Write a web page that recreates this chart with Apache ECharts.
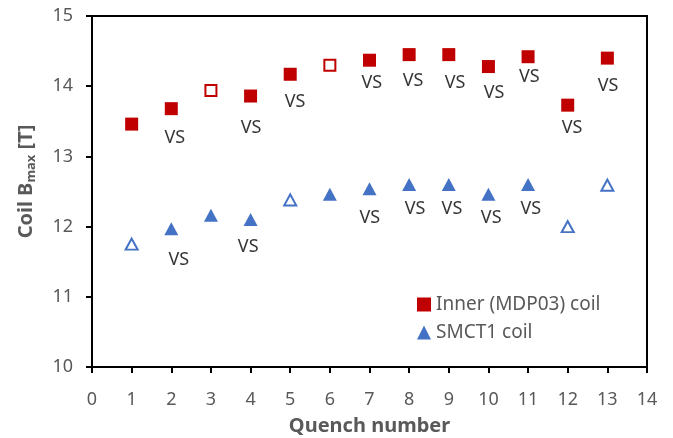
<!DOCTYPE html>
<html>
<head>
<meta charset="utf-8">
<script src="https://cdn.jsdelivr.net/npm/echarts@6/dist/echarts.min.js"></script>
<style>
  html, body { margin: 0; padding: 0; background: #fff; }
  #chart { width: 673px; height: 438px; }
</style>
</head>
<body>
<div id="chart"></div>
<script>
// quench number and peak field per coil
const quench = [1, 2, 3, 4, 5, 6, 7, 8, 9, 10, 11, 12, 13]
const innerBmax = [13.46, 13.68, 13.94, 13.86, 14.17, 14.30, 14.37, 14.45, 14.45, 14.28, 14.42, 13.73, 14.40]
const smctBmax = [11.75, 11.97, 12.16, 12.10, 12.38, 12.46, 12.54, 12.60, 12.60, 12.46, 12.60, 12.00, 12.59]
// quenches drawn with open markers
const innerOpen = [3, 6]
const smctOpen = [1, 5, 12, 13]
// "VS" annotation anchors (quench, field)
const innerVsX = [2.09, 4.01, 5.12, 7.06, 8.10, 9.16, 10.14, 11.03, 12.11, 13.02]
const innerVsY = [13.26, 13.40, 13.77, 14.05, 14.08, 14.05, 13.91, 14.13, 13.40, 14.01]
const smctVsX = [2.19, 3.94, 7.01, 8.15, 9.08, 10.07, 11.07]
const smctVsY = [11.52, 11.71, 12.12, 12.25, 12.25, 12.12, 12.25]
const xTicks = [0, 14]
const yTicks = [10, 15]

const RED = '#C00000'
const BLUE = '#4472C4'
const GREY = '#595959'
const FONT = 'Noto Sans'

const pick = (vals, open, wantOpen) =>
  quench.filter(q => open.includes(q) === wantOpen).map(q => [q, vals[quench.indexOf(q)]])

const vsSeries = (xs, ys) => ({
  type: 'scatter',
  silent: true,
  symbolSize: 0,
  data: xs.map((x, i) => [x, ys[i]]),
  label: { show: true, position: 'inside', formatter: 'VS', color: '#000', fontSize: 18, fontFamily: FONT },
  z: 1
})

const chart = echarts.init(document.getElementById('chart'))
chart.setOption({
  animation: false,
  grid: {
    left: 92, right: 26, top: 16, bottom: 71, outerBoundsMode: 'none',
    show: true, borderColor: '#000', borderWidth: 2
  },
  legend: {
    orient: 'vertical',
    left: 412,
    top: 290,
    itemGap: 9,
    itemWidth: 14,
    itemHeight: 14,
    data: ['Inner (MDP03) coil', 'SMCT1 coil'],
    textStyle: { color: GREY, fontSize: 19, fontFamily: FONT }
  },
  xAxis: {
    type: 'value', min: xTicks[0], max: xTicks[1], interval: 1,
    name: 'Quench number', nameLocation: 'middle', nameGap: 49,
    nameTextStyle: { color: GREY, fontSize: 20, fontWeight: 'bold', fontFamily: FONT },
    axisLine: { lineStyle: { color: '#000', width: 2 } },
    axisTick: { length: 6, lineStyle: { color: '#000', width: 2 } },
    axisLabel: { color: GREY, fontSize: 18, fontFamily: FONT, margin: 24 },
    splitLine: { show: false }
  },
  yAxis: {
    type: 'value', min: yTicks[0], max: yTicks[1], interval: 1,
    name: '{b|Coil B}{s|max}{b| [T]}', nameLocation: 'middle', nameGap: 54,
    nameTextStyle: {
      padding: [0, 0, 0, 20],
      rich: {
        b: { color: GREY, fontSize: 20, fontWeight: 'bold', fontFamily: FONT, lineHeight: 24 },
        s: { color: GREY, fontSize: 13, fontWeight: 'bold', fontFamily: FONT, lineHeight: 24, padding: [10, 0, 0, 0] }
      }
    },
    axisLine: { lineStyle: { color: '#000', width: 2 } },
    axisTick: { length: 6, lineStyle: { color: '#000', width: 2 } },
    axisLabel: { color: GREY, fontSize: 18, fontFamily: FONT, margin: 19 },
    splitLine: { show: false }
  },
  series: [
    {
      name: 'Inner (MDP03) coil', type: 'scatter', symbol: 'rect', symbolSize: 13,
      data: pick(innerBmax, innerOpen, false), itemStyle: { color: RED, opacity: 1 }, z: 3
    },
    {
      name: 'Inner open', type: 'scatter', symbol: 'rect', symbolSize: 11,
      data: pick(innerBmax, innerOpen, true),
      itemStyle: { color: '#fff', borderColor: RED, borderWidth: 2, opacity: 1 }, z: 3
    },
    {
      name: 'SMCT1 coil', type: 'scatter', symbol: 'triangle', symbolSize: [14, 13],
      data: pick(smctBmax, smctOpen, false), itemStyle: { color: BLUE, opacity: 1 }, z: 3
    },
    {
      name: 'SMCT1 open', type: 'scatter', symbol: 'triangle', symbolSize: [12, 11],
      data: pick(smctBmax, smctOpen, true),
      itemStyle: { color: '#fff', borderColor: BLUE, borderWidth: 2, opacity: 1 }, z: 3
    },
    vsSeries(innerVsX, innerVsY),
    vsSeries(smctVsX, smctVsY)
  ]
})
</script>
</body>
</html>
